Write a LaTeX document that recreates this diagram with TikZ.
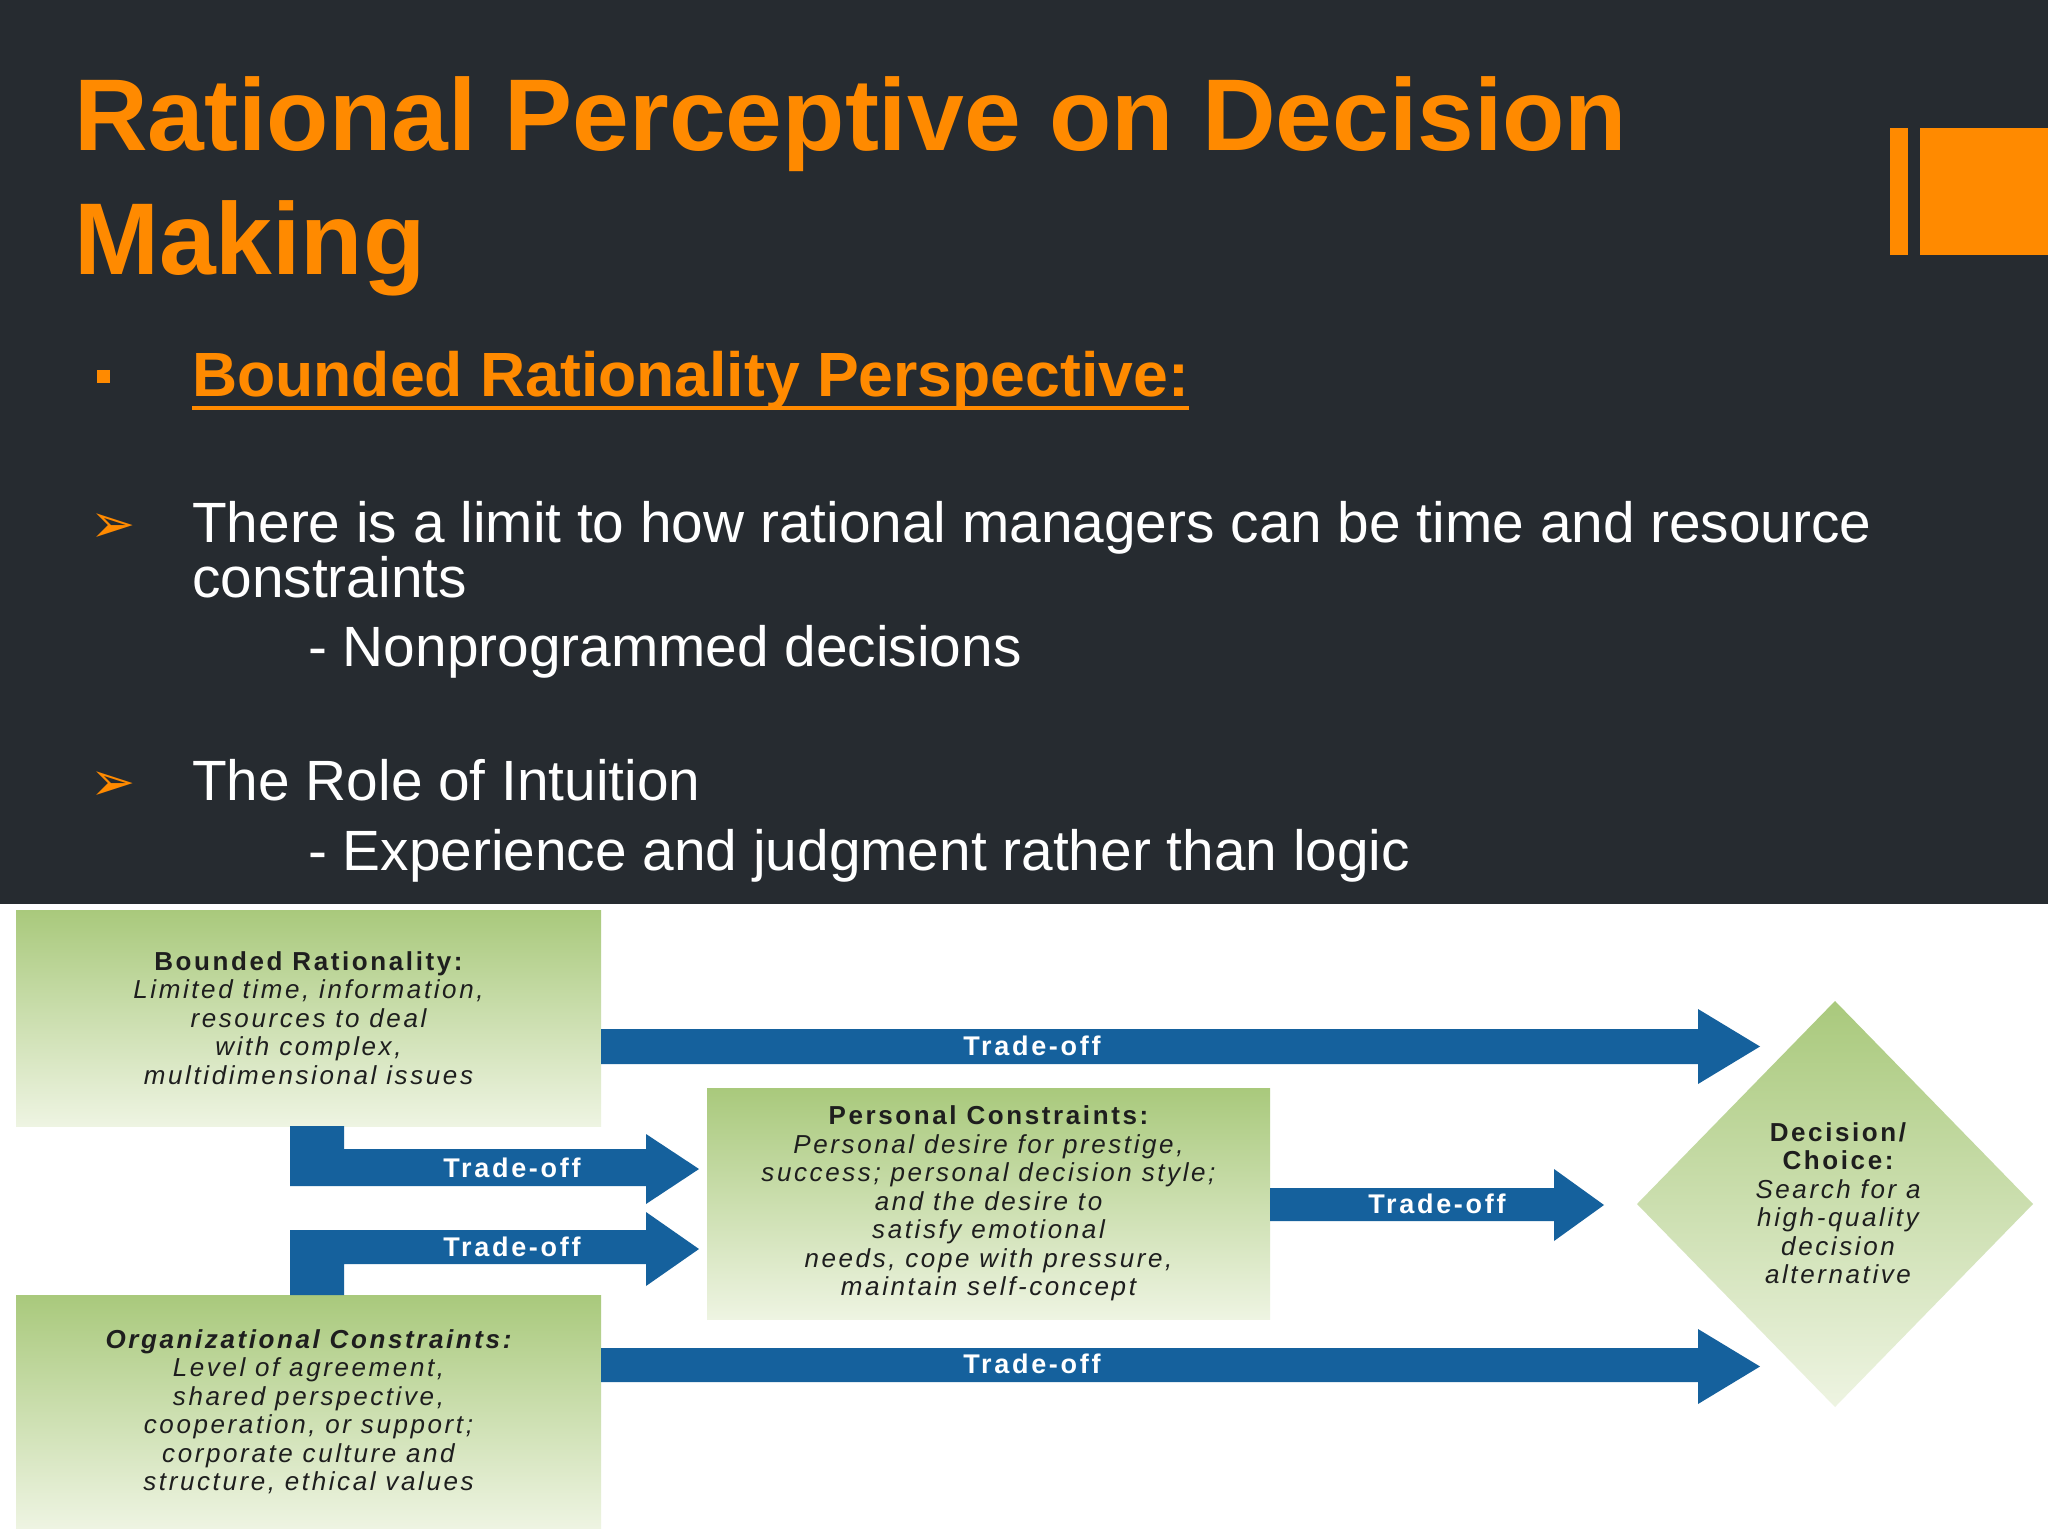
\documentclass[tikz,border=0pt]{standalone}
\usepackage{fontspec}
\setmainfont{Liberation Sans}
\newfontfamily\boxf[LetterSpace=10]{Liberation Sans}
\newfontfamily\dejavu{DejaVu Sans}
\usetikzlibrary{positioning}
\definecolor{bgdark}{HTML}{262B30}
\definecolor{orng}{HTML}{FF8A00}
\definecolor{arrblue}{HTML}{15619D}
\definecolor{gtop}{HTML}{A9C97C}
\definecolor{gbot}{HTML}{EEF4E2}
\definecolor{ink}{HTML}{1E1E1E}
\tikzset{
  gbox/.style={inner sep=0pt, top color=gtop, bottom color=gbot, draw=none, align=center,
    font=\boxf\fontsize{26}{28.5}\selectfont\itshape, text=ink},
  tlabel/.style={font=\boxf\fontsize{27}{28}\selectfont\bfseries, text=white},
  fatarrow/.style={fill=arrblue, draw=none},
  bodytext/.style={anchor=base west, inner sep=0pt, text=white, font=\fontsize{56.8}{60}\selectfont},
}
\begin{document}
\begin{tikzpicture}[x=1pt,y=-1pt]
\useasboundingbox (0,0) rectangle (2048,1536);
\fill[bgdark] (0,0) rectangle (2048,904);
\fill[white] (0,904) rectangle (2048,1536);
% decoration
\fill[orng] (1890,128) rectangle (1908,255);
\fill[orng] (1920,128) rectangle (2048,255);
% title
\node[anchor=base west, inner sep=0pt, text=orng, font=\fontsize{102}{120}\selectfont\bfseries] (t1) at (74,150) {Rational Perceptive on Decision};
\node[anchor=base west, inner sep=0pt, text=orng, font=\fontsize{102}{120}\selectfont\bfseries] (t2) at (74,274) {Making};
% bullets
\node[fill=orng, minimum size=13pt, inner sep=0pt] (sq) at (103,376) {};
\node[anchor=base west, inner sep=0pt, text=orng, font=\fontsize{62.5}{66}\selectfont\bfseries] (h) at (192,396) {Bounded Rationality Perspective:};
\draw[orng, line width=4pt] (h.west |- 0,408) -- (h.east |- 0,408);
\node[anchor=base west, inner sep=0pt, text=orng, font=\dejavu\fontsize{54}{60}\selectfont] (b1) at (90,542) {➢};
\node[anchor=base west, inner sep=0pt, text=orng, font=\dejavu\fontsize{54}{60}\selectfont] (b2) at (90,800) {➢};
\node[bodytext] (l1) at (192,542) {There is a limit to how rational managers can be time and resource};
\node[bodytext] (l2) at (192,597) {constraints};
\node[bodytext] (l3) at (308,666) {- Nonprogrammed decisions};
\node[bodytext] (l4) at (192,800) {The Role of Intuition};
\node[bodytext] (l5) at (308,870) {- Experience and judgment rather than logic};
% boxes
\node[gbox, minimum width=585pt, minimum height=216pt] (br) at (308.5,1018) {{\upshape\bfseries Bounded Rationality:}\\Limited time, information,\\resources to deal\\with complex,\\multidimensional issues};
\node[gbox, minimum width=585pt, minimum height=233pt] (oc) at (308.5,1411.5) {{\bfseries Organizational Constraints:}\\Level of agreement,\\shared perspective,\\cooperation, or support;\\corporate culture and\\structure, ethical values};
\node[gbox, minimum width=563pt, minimum height=231pt] (pc) at (988.5,1203.5) {{\upshape\bfseries Personal Constraints:}\\Personal desire for prestige,\\success; personal decision style;\\and the desire to\\satisfy emotional\\needs, cope with pressure,\\maintain self-concept};
% diamond
\shade[top color=gtop, bottom color=gbot] (1835,1001) -- (2033,1204) -- (1835,1407) -- (1637,1204) -- cycle;
\node[align=center, inner sep=0pt, text=ink, font=\boxf\fontsize{26}{28.5}\selectfont\itshape] (dc) at (1838,1203) {{\upshape\bfseries Decision/}\\{\upshape\bfseries Choice:}\\Search for a\\high-quality\\decision\\alternative};
% arrows
\fill[fatarrow] (br.east |- 0,1029) -- (1698,1029) -- (1698,1009) -- (1760,1046.5) -- (1698,1084) -- (1698,1064) -- (br.east |- 0,1064) -- cycle;
\fill[fatarrow] (oc.east |- 0,1348) -- (1698,1348) -- (1698,1329) -- (1760,1366.5) -- (1698,1404) -- (1698,1382) -- (oc.east |- 0,1382) -- cycle;
\fill[fatarrow] (pc.east |- 0,1188) -- (1554,1188) -- (1554,1169) -- (1604,1205) -- (1554,1241) -- (1554,1221) -- (pc.east |- 0,1221) -- cycle;
\fill[fatarrow] (290,1126) -- (344,1126) -- (344,1149) -- (646,1149) -- (646,1134) -- (699,1169) -- (646,1204) -- (646,1186) -- (290,1186) -- cycle;
\fill[fatarrow] (290,1295) -- (344,1295) -- (344,1264) -- (646,1264) -- (646,1286) -- (699,1249) -- (646,1212) -- (646,1230) -- (290,1230) -- cycle;
% labels
\node[tlabel] (a1) at (1032,1046) {Trade-off};
\node[tlabel] (a2) at (1032,1364) {Trade-off};
\node[tlabel] (a3) at (1437,1204) {Trade-off};
\node[tlabel] (a4) at (512,1168) {Trade-off};
\node[tlabel] (a5) at (512,1247) {Trade-off};
\end{tikzpicture}
\end{document}
